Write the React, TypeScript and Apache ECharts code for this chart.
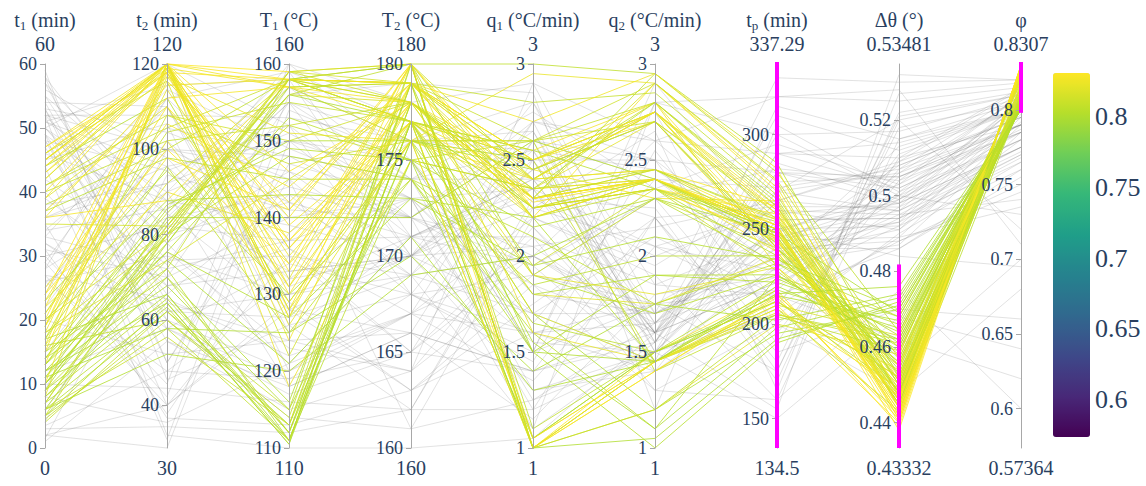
import React, { useEffect, useRef } from "react";
import * as echarts from "echarts";

// ---- axes ----
const axisTitles: [string, string, string][] = [
  ["t", "1", " (min)"],
  ["t", "2", " (min)"],
  ["T", "1", " (°C)"],
  ["T", "2", " (°C)"],
  ["q", "1", " (°C/min)"],
  ["q", "2", " (°C/min)"],
  ["t", "p", " (min)"],
  ["Δθ (°)", "", ""],
  ["φ", "", ""],
];
const axisMin = [0, 30, 110, 160, 1, 1, 134.5, 0.43332, 0.57364];
const axisMax = [60, 120, 160, 180, 3, 3, 337.29, 0.53481, 0.8307];
const axisMinLabels = ["0", "30", "110", "160", "1", "1", "134.5", "0.43332", "0.57364"];
const axisMaxLabels = ["60", "120", "160", "180", "3", "3", "337.29", "0.53481", "0.8307"];
const axisTicks = [
  [0, 10, 20, 30, 40, 50, 60],
  [40, 60, 80, 100, 120],
  [110, 120, 130, 140, 150, 160],
  [160, 165, 170, 175, 180],
  [1, 1.5, 2, 2.5, 3],
  [1, 1.5, 2, 2.5, 3],
  [150, 200, 250, 300],
  [0.44, 0.46, 0.48, 0.5, 0.52],
  [0.6, 0.65, 0.7, 0.75, 0.8],
];
// brushed constraint ranges (null = none)
const constraintRanges: (number[] | null)[] = [
  null, null, null, null, null, null,
  [134.5, 337.29],
  [0.43332, 0.4813],
  [0.798, 0.8307],
];

// ---- colour scale ----
const colorbarTicks = [0.6, 0.65, 0.7, 0.75, 0.8];
const viridis = [
  "#440154", "#482878", "#3e4989", "#31688e", "#26828e",
  "#1f9e89", "#35b779", "#6ece58", "#b5de2b", "#fde725",
];

// ---- runs: t1, t2, T1, T2, q1, q2, tp, dTheta, phi ----
const runsA = [
  [45, 120, 130, 178, 2.3, 2.4, 250, 0.442, 0.829],
  [46, 119, 128, 179, 2.25, 2.35, 245, 0.445, 0.827],
  [44, 118, 135, 177, 2.5, 2.8, 230, 0.45, 0.824],
  [43, 117, 140, 180, 1.0, 1.4, 215, 0.447, 0.826],
  [42, 120, 126, 176, 2.35, 2.7, 260, 0.455, 0.821],
  [41, 105, 158, 177, 1.9, 2.3, 240, 0.46, 0.81],
  [40, 102, 152, 175, 2.6, 1.4, 205, 0.462, 0.808],
  [37, 98, 145, 174, 1.6, 1.1, 225, 0.468, 0.804],
  [36, 88, 158, 179, 2.2, 2.9, 270, 0.444, 0.828],
  [35, 82, 156, 178, 2.4, 2.75, 255, 0.451, 0.815],
  [46, 120, 133, 180, 1.05, 1.45, 210, 0.44, 0.83],
  [45, 118, 137, 178, 2.28, 2.4, 248, 0.443, 0.828],
  [44, 112, 129, 176, 1.5, 1.0, 190, 0.472, 0.802],
  [47, 120, 124, 179, 2.45, 2.3, 265, 0.446, 0.826],
  [39, 110, 131, 177, 1.8, 1.75, 235, 0.458, 0.819],
  [38, 100, 158, 180, 3.0, 2.95, 280, 0.464, 0.806],
  [22, 120, 136, 178, 2.3, 2.45, 252, 0.441, 0.829],
  [20, 119, 139, 177, 2.55, 2.8, 245, 0.444, 0.827],
  [18, 116, 142, 179, 2.2, 2.4, 238, 0.448, 0.825],
  [24, 120, 127, 180, 1.0, 1.5, 218, 0.439, 0.83],
  [19, 114, 134, 176, 2.4, 2.75, 262, 0.452, 0.822],
  [17, 108, 150, 178, 1.95, 2.35, 228, 0.456, 0.813],
  [21, 104, 155, 177, 2.5, 1.45, 205, 0.461, 0.809],
  [16, 92, 158, 179, 2.3, 2.9, 275, 0.447, 0.818],
  [15, 85, 157, 176, 2.6, 2.7, 258, 0.453, 0.811],
  [14, 80, 158, 180, 1.1, 1.5, 212, 0.449, 0.806],
  [13, 82, 159, 178, 2.35, 2.4, 246, 0.445, 0.812],
  [12, 78, 156, 177, 1.7, 1.2, 195, 0.47, 0.801],
  [11, 76, 153, 175, 2.15, 2.3, 232, 0.463, 0.804],
  [10, 80, 148, 174, 1.5, 1.9, 222, 0.466, 0.803],
  [9, 72, 158, 179, 2.8, 2.85, 268, 0.45, 0.809],
  [8, 65, 112, 178, 2.25, 2.4, 250, 0.446, 0.807],
  [7, 63, 111, 177, 1.0, 1.45, 208, 0.443, 0.805],
  [6, 62, 113, 176, 2.5, 2.75, 240, 0.455, 0.802],
  [5, 64, 110.5, 180, 1.9, 1.7, 226, 0.459, 0.804],
  [4.5, 60, 114, 179, 2.4, 2.45, 255, 0.448, 0.808],
  [12, 68, 115, 175, 1.05, 1.5, 215, 0.467, 0.801],
  [14, 70, 112, 178, 2.3, 2.95, 285, 0.452, 0.806],
  [17, 66, 111, 177, 1.55, 1.1, 198, 0.473, 0.8],
  [9, 84, 140, 172, 2.6, 2.4, 243, 0.457, 0.803],
  [20, 88, 143, 173, 2.2, 1.45, 218, 0.465, 0.802],
  [23, 95, 130, 174, 1.85, 2.0, 236, 0.461, 0.805],
  [11, 58, 125, 170, 1.4, 1.75, 202, 0.474, 0.8],
  [6, 52, 120, 169, 2.0, 2.3, 248, 0.469, 0.801],
  [19, 120, 159, 180, 2.3, 2.4, 252, 0.438, 0.83],
];
const runsB = [
  [15, 118, 158, 179, 1.0, 1.4, 214, 0.442, 0.829],
  [13, 120, 146, 178, 2.45, 2.75, 260, 0.444, 0.828],
  [10, 119, 157, 177, 2.25, 2.35, 244, 0.447, 0.826],
  [16, 117, 151, 176, 2.95, 2.9, 272, 0.451, 0.823],
  [8, 120, 132, 180, 1.6, 1.45, 206, 0.454, 0.821],
  [40, 120, 158, 178, 2.2, 2.4, 250, 0.44, 0.829],
  [43, 120, 157, 179, 2.5, 2.7, 238, 0.446, 0.826],
  [42, 119, 128, 176, 1.0, 1.2, 200, 0.458, 0.819],
  [46, 116, 122, 177, 1.7, 1.45, 210, 0.463, 0.815],
  [45, 120, 118, 175, 2.35, 2.4, 255, 0.449, 0.824],
  [5, 80, 159, 180, 2.4, 2.8, 264, 0.444, 0.81],
  [7, 82, 158, 178, 2.3, 2.45, 248, 0.448, 0.806],
  [6, 78, 157, 179, 1.05, 1.5, 212, 0.452, 0.803],
  [10, 81, 158, 177, 2.55, 2.35, 236, 0.456, 0.804],
  [13, 86, 150, 176, 1.8, 1.9, 226, 0.46, 0.802],
  [18, 74, 145, 178, 2.25, 2.4, 250, 0.445, 0.817],
  [22, 90, 138, 177, 2.4, 2.75, 258, 0.45, 0.823],
  [24, 100, 134, 180, 1.0, 1.45, 216, 0.441, 0.829],
  [21, 98, 141, 179, 2.7, 2.95, 282, 0.447, 0.826],
  [16, 60, 113, 178, 2.3, 2.4, 246, 0.448, 0.807],
  [9, 66, 112, 176, 2.45, 2.7, 240, 0.453, 0.803],
  [12, 64, 110.5, 177, 1.0, 1.05, 192, 0.471, 0.8],
  [4, 62, 115, 180, 2.2, 2.35, 254, 0.445, 0.808],
  [8, 70, 116, 179, 1.5, 1.45, 220, 0.462, 0.801],
  [15, 72, 111, 175, 2.35, 2.8, 266, 0.45, 0.805],
  [37, 112, 157, 178, 2.3, 2.4, 250, 0.443, 0.828],
  [36, 115, 158, 179, 2.5, 2.75, 244, 0.446, 0.826],
  [39, 120, 136, 177, 1.05, 1.45, 208, 0.449, 0.825],
  [44, 120, 141, 180, 2.25, 2.35, 258, 0.441, 0.829],
  [47, 118, 131, 179, 2.4, 2.45, 262, 0.444, 0.828],
  [45, 120, 127, 178, 1.9, 1.8, 230, 0.455, 0.821],
  [41, 108, 147, 176, 2.6, 2.9, 276, 0.457, 0.812],
  [20, 81, 158, 177, 2.2, 2.4, 248, 0.447, 0.816],
  [18, 79, 159, 179, 2.45, 2.7, 242, 0.449, 0.814],
  [11, 83, 156, 180, 1.0, 1.2, 204, 0.459, 0.806],
  [7, 80, 152, 178, 2.35, 2.45, 256, 0.451, 0.811],
  [14, 87, 149, 175, 1.65, 1.5, 224, 0.464, 0.804],
  [23, 110, 137, 177, 2.3, 2.4, 252, 0.442, 0.829],
  [25, 106, 144, 179, 2.5, 2.75, 240, 0.446, 0.826],
  [19, 102, 129, 176, 1.0, 1.45, 212, 0.452, 0.822],
  [17, 96, 125, 174, 2.1, 1.75, 232, 0.468, 0.807],
  [5, 58, 111, 177, 2.25, 2.35, 250, 0.454, 0.806],
  [6, 56, 113, 179, 2.6, 2.8, 262, 0.448, 0.81],
  [10, 74, 121, 171, 1.3, 1.45, 216, 0.476, 0.8],
  [13, 76, 127, 173, 1.95, 2.1, 234, 0.47, 0.802],
];
const runsC = [
  [52, 100, 148, 172, 2.6, 2.5, 280, 0.505, 0.79],
  [50, 85, 155, 170, 2.8, 1.6, 310, 0.512, 0.8],
  [53, 60, 120, 168, 1.5, 2.9, 250, 0.498, 0.775],
  [49, 40, 135, 165, 2.1, 1.3, 200, 0.49, 0.765],
  [3, 35, 112, 162, 1.2, 2.2, 170, 0.52, 0.81],
  [2, 30, 150, 175, 1.8, 1.7, 330, 0.53, 0.82],
  [30, 45, 160, 178, 2.9, 2.6, 290, 0.502, 0.785],
  [28, 90, 118, 166, 1.4, 1.55, 230, 0.495, 0.77],
  [33, 110, 125, 171, 2.4, 1.6, 265, 0.508, 0.795],
  [55, 70, 140, 173, 1.7, 2.1, 215, 0.486, 0.76],
  [58, 50, 145, 161, 2.2, 1.9, 160, 0.515, 0.8],
  [26, 75, 130, 169, 1.1, 2.8, 300, 0.5, 0.78],
  [48, 95, 152, 172, 2.7, 1.5, 245, 0.493, 0.768],
  [1, 55, 115, 164, 1.9, 2.3, 190, 0.51, 0.79],
  [31, 38, 138, 176, 2.5, 1.65, 275, 0.505, 0.785],
  [51, 115, 158, 170, 1.3, 1.4, 220, 0.497, 0.775],
  [27, 65, 122, 167, 2.0, 2.6, 320, 0.525, 0.815],
  [34, 105, 148, 174, 2.55, 2.45, 240, 0.488, 0.745],
  [57, 85, 128, 163, 1.6, 1.75, 175, 0.518, 0.805],
  [29, 42, 156, 179, 2.85, 1.2, 305, 0.501, 0.78],
  [52, 33, 110, 160, 1.05, 1.6, 155, 0.532, 0.82],
  [25, 100, 142, 171, 2.3, 2.0, 260, 0.495, 0.74],
  [32, 58, 134, 168, 1.45, 2.55, 210, 0.507, 0.79],
  [50, 78, 146, 172, 2.65, 1.55, 285, 0.499, 0.78],
  [3.5, 48, 119, 165, 2.0, 1.7, 235, 0.513, 0.8],
  [38, 92, 151, 173, 1.25, 1.65, 250, 0.492, 0.76],
  [54, 62, 127, 169, 2.45, 2.75, 195, 0.504, 0.785],
  [24, 112, 159, 177, 2.15, 1.45, 315, 0.515, 0.805],
  [35, 37, 113, 163, 1.75, 2.2, 180, 0.521, 0.81],
  [46, 88, 139, 170, 2.35, 1.6, 270, 0.496, 0.772],
];
const runsD = [
  [20, 52, 124, 166, 1.15, 1.8, 225, 0.509, 0.795],
  [42, 73, 157, 174, 2.75, 2.35, 295, 0.503, 0.79],
  [56, 98, 131, 171, 1.55, 1.5, 205, 0.489, 0.735],
  [10, 44, 116, 162, 2.25, 2.65, 165, 0.527, 0.818],
  [30, 82, 144, 172, 1.95, 1.4, 255, 0.494, 0.765],
  [52, 108, 153, 176, 2.55, 1.7, 240, 0.486, 0.755],
  [8, 36, 121, 167, 1.35, 2.05, 210, 0.511, 0.8],
  [39, 68, 133, 170, 2.05, 1.6, 280, 0.498, 0.775],
  [53, 50, 147, 173, 1.65, 2.4, 230, 0.506, 0.79],
  [28, 118, 126, 168, 2.6, 1.55, 300, 0.517, 0.808],
  [33, 72, 137, 171, 2.1, 1.85, 215, 0.462, 0.62],
  [48, 55, 118, 166, 1.4, 2.2, 185, 0.47, 0.66],
  [15, 90, 150, 174, 2.4, 1.6, 240, 0.455, 0.7],
  [27, 40, 129, 163, 1.85, 1.3, 160, 0.475, 0.6],
  [58, 80, 142, 169, 2.7, 2.5, 200, 0.448, 0.68],
  [40, 60, 114, 161, 1.25, 1.5, 150, 0.468, 0.64],
  [22, 102, 136, 167, 2.2, 1.95, 270, 0.52, 0.72],
  [44, 32, 154, 175, 1.5, 2.8, 320, 0.528, 0.71],
  [6, 76, 123, 164, 2.9, 1.7, 250, 0.484, 0.695],
  [36, 96, 132, 170, 1.7, 1.45, 230, 0.5, 0.73],
  [51, 90, 159, 171, 2.35, 2.05, 260, 0.491, 0.78],
  [49, 66, 143, 168, 1.9, 1.75, 245, 0.499, 0.785],
  [12, 58, 117, 165, 2.5, 1.6, 222, 0.505, 0.79],
  [37, 114, 149, 173, 1.2, 1.5, 290, 0.514, 0.8],
  [59, 46, 126, 162, 2.3, 2.25, 175, 0.522, 0.812],
  [26, 84, 155, 176, 2.65, 1.65, 265, 0.496, 0.775],
  [45, 106, 120, 167, 1.6, 1.4, 210, 0.488, 0.75],
  [32, 62, 130, 170, 2.45, 2.7, 240, 0.508, 0.795],
  [4, 94, 141, 172, 1.1, 1.55, 280, 0.502, 0.787],
  [50, 74, 135, 169, 2.0, 1.65, 225, 0.494, 0.77],
];
const runsE = [
  [51, 96, 150, 171, 2.4, 2.2, 262, 0.497, 0.805],
  [49, 82, 137, 173, 2.0, 1.6, 248, 0.503, 0.81],
  [53, 104, 145, 169, 1.7, 1.7, 236, 0.491, 0.795],
  [2, 40, 128, 166, 2.6, 2.4, 272, 0.507, 0.812],
  [31, 70, 155, 174, 1.3, 1.5, 255, 0.494, 0.8],
  [55, 88, 133, 170, 2.25, 2.05, 228, 0.499, 0.806],
  [29, 112, 140, 172, 1.85, 1.6, 290, 0.51, 0.815],
  [47, 58, 119, 167, 2.7, 2.6, 244, 0.489, 0.79],
  [34, 86, 160, 175, 1.5, 1.75, 218, 0.501, 0.803],
  [57, 64, 124, 164, 2.15, 1.55, 270, 0.506, 0.808],
  [9, 100, 146, 170, 2.5, 2.5, 238, 0.493, 0.797],
  [50, 120, 152, 168, 1.6, 1.65, 258, 0.498, 0.804],
  [26, 48, 132, 173, 2.35, 1.45, 232, 0.487, 0.785],
  [52, 78, 121, 171, 1.95, 2.3, 282, 0.504, 0.81],
  [36, 92, 157, 176, 2.8, 1.85, 246, 0.496, 0.8],
  [48, 68, 136, 165, 1.4, 1.6, 222, 0.492, 0.792],
  [1.5, 84, 143, 172, 2.05, 2.15, 265, 0.509, 0.814],
  [54, 110, 128, 170, 2.55, 1.5, 250, 0.5, 0.806],
];

const W = 1146;
const H = 486;
const PAR_LEFT = 45;
const PAR_RIGHT = 125;
const PAR_TOP = 64;
const PAR_BOTTOM = 38;
const CB_LEFT = 1053;
const CB_TOP = 73;
const CB_W = 37;
const CB_H = 364;
const TEXT = "#2a3f5f";
const FONT = "Liberation Serif, DejaVu Serif, Noto Serif, Times New Roman, Times, serif";

export default function App() {
  const ref = useRef<HTMLDivElement>(null);
  useEffect(() => {
    if (!ref.current) return;
    const chart = echarts.init(ref.current, undefined, { renderer: "svg" });
    const runs = [...runsA, ...runsB, ...runsC, ...runsD, ...runsE];
    const inRange = (row: number[]) =>
      constraintRanges.every((r, i) => !r || (row[i] >= r[0] && row[i] <= r[1]));
    const selected = runs.filter(inRange);
    const context = runs.filter((r) => !inRange(r));

    const nAxes = axisTitles.length;
    const step = (W - PAR_LEFT - PAR_RIGHT) / (nAxes - 1);
    const plotH = H - PAR_TOP - PAR_BOTTOM;
    const valueToY = (i: number, v: number) =>
      PAR_TOP + ((axisMax[i] - v) / (axisMax[i] - axisMin[i])) * plotH;

    const richStyles = {
      a: { fontSize: 20, fontFamily: FONT, color: TEXT, lineHeight: 24 },
      s: { fontSize: 13, fontFamily: FONT, color: TEXT, lineHeight: 24, verticalAlign: "bottom" as const },
    };

    const parallelAxis = axisTitles.map((t, i) => {
      const title = t[1] ? `{a|${t[0]}}{s|${t[1]}}{a|${t[2]}}` : `{a|${t[0]}}`;
      return {
        id: "ax" + i,
        dim: i,
        type: "value" as const,
        min: axisMin[i],
        max: axisMax[i],
        name: `${title}\n{a|${axisMaxLabels[i]}}`,
        nameLocation: "end" as const,
        nameGap: 8,
        nameTextStyle: { rich: richStyles },
        axisLine: { lineStyle: { color: "#a8a8a8", width: 1 } },
        axisTick: {
          show: true,
          length: -5,
          lineStyle: { color: "#a8a8a8" },
          customValues: axisTicks[i],
        },
        axisLabel: {
          customValues: axisTicks[i],
          color: TEXT,
          fontSize: 18,
          fontFamily: FONT,
          margin: -8,
          align: "right" as const,
          verticalAlign: "middle" as const,
          formatter: (v: number) => String(v),
        },
        splitLine: { show: false },
      };
    });

    const graphics: any[] = axisMinLabels.map((lab, i) => ({
      type: "text",
      x: PAR_LEFT + i * step,
      y: H - 18,
      style: { text: lab, fill: TEXT, font: `20px ${FONT}`, align: "center", verticalAlign: "middle" },
      silent: true,
    }));
    // constraint (brush) bars
    constraintRanges.forEach((r, i) => {
      if (!r) return;
      const y1 = valueToY(i, r[1]) - 2;
      const y0 = valueToY(i, r[0]);
      graphics.push({
        type: "rect",
        z: 100,
        silent: true,
        shape: { x: PAR_LEFT + i * step - 2, y: y1, width: 4, height: y0 - y1 },
        style: { fill: "#ff00ff" },
      });
    });
    const cbMin = axisMin[8];
    const cbMax = axisMax[8];
    colorbarTicks.forEach((v) => {
      graphics.push({
        type: "text",
        x: CB_LEFT + CB_W + 5,
        y: CB_TOP + ((cbMax - v) / (cbMax - cbMin)) * CB_H,
        style: { text: String(v), fill: TEXT, font: `26px ${FONT}`, align: "left", verticalAlign: "middle" },
        silent: true,
      });
    });

    chart.setOption({
      animation: false,
      backgroundColor: "#ffffff",
      parallel: {
        left: PAR_LEFT,
        right: PAR_RIGHT,
        top: PAR_TOP,
        bottom: PAR_BOTTOM,
        layout: "horizontal",
      },
      parallelAxis,
      visualMap: {
        type: "continuous",
        show: true,
        seriesIndex: 1,
        dimension: 8,
        min: cbMin,
        max: cbMax,
        left: CB_LEFT,
        top: CB_TOP,
        itemWidth: CB_W,
        itemHeight: CB_H,
        padding: 0,
        calculable: false,
        hoverLink: false,
        text: null,
        inRange: { color: viridis },
      },
      series: [
        {
          type: "parallel",
          name: "context",
          data: context,
          smooth: false,
          silent: true,
          lineStyle: { color: "#6f6f6f", width: 1, opacity: 0.2 },
        },
        {
          type: "parallel",
          name: "selected",
          data: selected,
          smooth: false,
          silent: true,
          lineStyle: { width: 1, opacity: 0.8 },
        },
      ],
      graphic: graphics,
    });

    return () => chart.dispose();
  }, []);

  return (
    <div
      ref={ref}
      style={{ position: "fixed", left: 0, top: 0, width: W, height: H, background: "#fff" }}
    />
  );
}
